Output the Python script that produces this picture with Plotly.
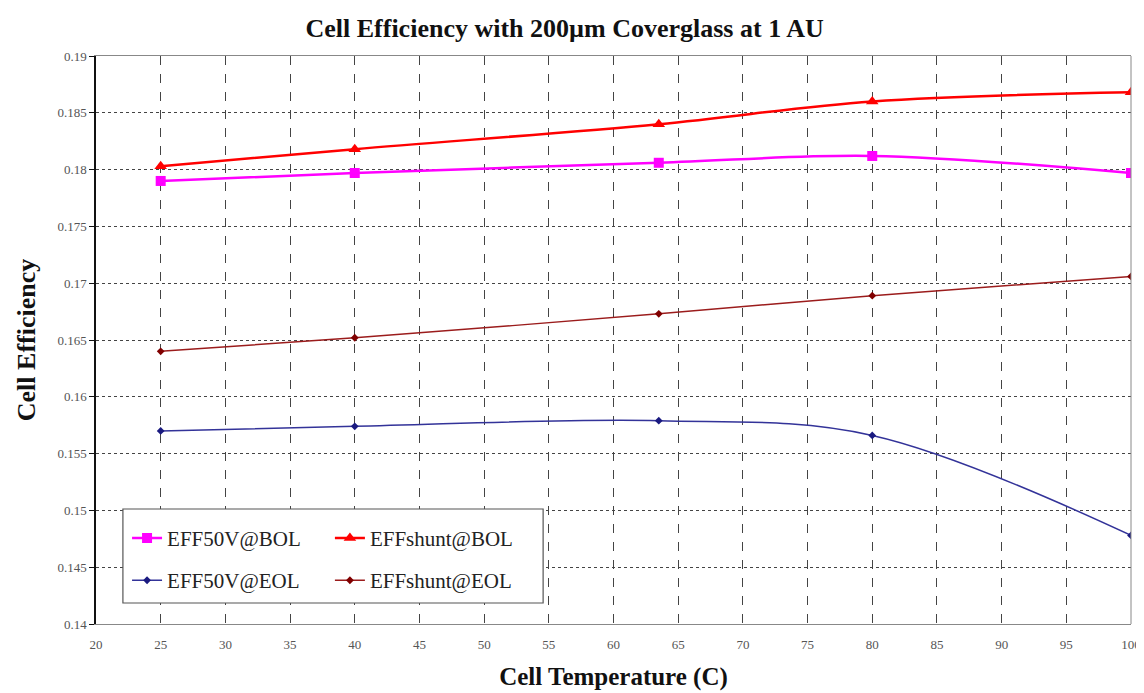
import plotly.graph_objects as go

temps = [25, 40, 63.5, 80, 100]
eff50v_bol = [0.1790, 0.1797, 0.1806, 0.1812, 0.1797]
effshunt_bol = [0.1803, 0.1818, 0.1840, 0.1860, 0.1868]
eff50v_eol = [0.1570, 0.1574, 0.1579, 0.1566, 0.1478]
effshunt_eol = [0.1640, 0.1652, 0.1673, 0.1689, 0.1706]

serif = "Liberation Serif"

fig = go.Figure()
fig.add_trace(go.Scatter(x=temps, y=eff50v_bol, name="EFF50V@BOL", mode="lines+markers",
                         line=dict(color="#FF00FF", width=2.5, shape="spline", smoothing=1),
                         marker=dict(symbol="square", size=10, color="#FF00FF"),
                         legend="legend", legendgroup="a"))
fig.add_trace(go.Scatter(x=temps, y=eff50v_eol, name="EFF50V@EOL", mode="lines+markers",
                         line=dict(color="#333399", width=1.5, shape="spline", smoothing=1),
                         marker=dict(symbol="diamond", size=6, color="#1a1a80"),
                         legend="legend", legendgroup="b"))
fig.add_trace(go.Scatter(x=temps, y=effshunt_bol, name="EFFshunt@BOL", mode="lines+markers",
                         line=dict(color="#FF0000", width=2.5, shape="spline", smoothing=1),
                         marker=dict(symbol="triangle-up", size=11, color="#FF0000"),
                         legend="legend2", legendgroup="c"))
fig.add_trace(go.Scatter(x=temps, y=effshunt_eol, name="EFFshunt@EOL", mode="lines+markers",
                         line=dict(color="#9b1c1c", width=1.5, shape="spline", smoothing=1),
                         marker=dict(symbol="diamond", size=6, color="#800000"),
                         legend="legend2", legendgroup="d"))

fig.update_layout(
    legend=dict(x=0.03, y=0.187, bgcolor="rgba(0,0,0,0)", borderwidth=0,
                font=dict(family=serif, size=21, color="#222"),
                traceorder="grouped", tracegroupgap=12, yanchor="top", xanchor="left"),
    legend2=dict(x=0.226, y=0.187, bgcolor="rgba(0,0,0,0)", borderwidth=0,
                 font=dict(family=serif, size=21, color="#222"),
                 traceorder="grouped", tracegroupgap=12, yanchor="top", xanchor="left"),
)

fig.update_layout(
    width=1136, height=685,
    font=dict(family=serif, color="#222"),
    paper_bgcolor="white", plot_bgcolor="white",
    margin=dict(l=88, r=13, t=48, b=69, autoexpand=False),
    title=dict(text="<b>Cell Efficiency with 200µm Coverglass at 1 AU</b>", x=0.49, xref="container",
               y=0.971, yref="container", yanchor="middle",
               font=dict(family=serif, size=26, color="#111")),
    xaxis=dict(range=[20, 100], dtick=5, tick0=20, showgrid=True, gridcolor="#444", griddash="dash",
               gridwidth=1, showline=True, linecolor="#888", linewidth=1, mirror=True,
               ticks="outside", ticklen=8, tickcolor="rgba(0,0,0,0)", zeroline=False,
               automargin=False,
               tickfont=dict(family=serif, size=13, color="#555"),
               title=dict(text="<b>Cell Temperature (C)</b>", font=dict(family=serif, size=25, color="#111"),
                          standoff=16)),
    yaxis=dict(range=[0.14, 0.19], dtick=0.005, tick0=0.14, showgrid=True, gridcolor="#444", griddash="dot",
               gridwidth=1, showline=True, linecolor="#111", linewidth=1.5, mirror=False,
               ticks="outside", ticklen=5, tickcolor="#111", zeroline=False,
               automargin=False,
               tickfont=dict(family=serif, size=13, color="#555"),
               title=dict(text="<b>Cell Efficiency</b>", font=dict(family=serif, size=26, color="#111"),
                          standoff=14)),
    shapes=[dict(type="rect", xref="paper", yref="paper", x0=0.026, x1=0.432, y0=0.037, y1=0.2025,
                 line=dict(color="#555", width=1.2), fillcolor="white", layer="above"),
            dict(type="line", xref="paper", yref="paper", x0=1, x1=1, y0=0, y1=1,
                 line=dict(color="#888", width=1))],
)

fig.write_html("out.html")
